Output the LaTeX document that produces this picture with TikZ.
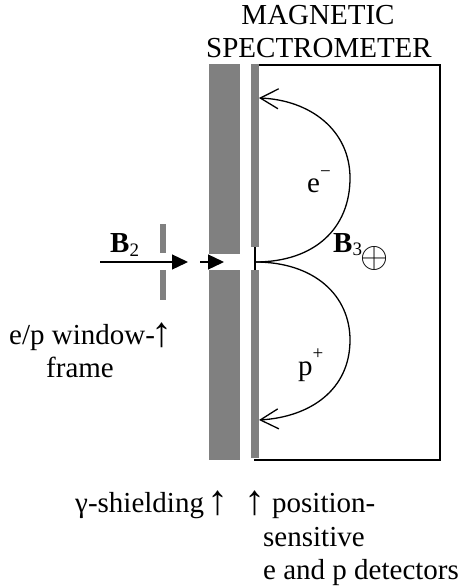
\documentclass[tikz,border=0pt]{standalone}
\usepackage{fontspec}
\setmainfont{Liberation Serif}
\usetikzlibrary{arrows.meta}
\definecolor{midgray}{HTML}{808080}
\newcommand{\smalltxt}{\fontsize{19}{21}\selectfont}
\newcommand{\uparr}{\makebox[14pt]{\raisebox{-2pt}{\fontsize{42}{42}\selectfont ↑}}}
\tikzset{
  lab/.style={inner sep=0pt,font=\fontsize{29}{33}\selectfont,text=black,anchor=base west},
  gbar/.style={fill=midgray,draw=none,inner sep=0pt,minimum width=0pt},
  beam/.style={draw=black,line width=1.3pt,-{Triangle[length=16pt,width=15pt]}},
  orbit/.style={draw=black,line width=1.3pt,-{Straight Barb[length=18pt,width=20pt,line width=1.3pt]}},
}
\begin{document}
\begin{tikzpicture}[x=1pt,y=-1pt]
\useasboundingbox (0,0) rectangle (465,588);
% frame
\draw[black,line width=1.4pt] (254,65) -- (440,65) -- (440,460) -- (254,460);
% shield
\node[gbar,minimum width=31pt,minimum height=190pt] (shieldT) at (224.5,159) {};
\node[gbar,minimum width=31pt,minimum height=190pt] (shieldB) at (224.5,365) {};
% detectors
\node[gbar,minimum width=8pt,minimum height=183pt] (detT) at (255,155.5) {};
\node[gbar,minimum width=8pt,minimum height=188pt] (detB) at (255,364) {};
% window frame
\node[gbar,minimum width=6pt,minimum height=29pt] (winT) at (162.5,238.5) {};
\node[gbar,minimum width=6pt,minimum height=30pt] (winB) at (162.5,285) {};
% coordinates
\coordinate (b2s) at (100,262);
\coordinate (b2e) at (188,262);
\coordinate (b3s) at (200,262);
\coordinate (b3e) at (224,262);
\coordinate (src) at (255,262);
\coordinate (hitT) at (259,98);
\coordinate (hitB) at (259,420);
\draw[beam] (b2s) -- (b2e);
\draw[beam] (b3s) -- (b3e);
\draw[black,line width=1.3pt] (detT.south) -- (detB.north);
\draw[orbit] (src) .. controls (315,262) and (350,228) .. (350,178) .. controls (350,130) and (310,100) .. (hitT);
\draw[orbit] (src) .. controls (315,262) and (350,296) .. (350,340) .. controls (350,390) and (310,417) .. (hitB);
% labels
\node[lab,anchor=base] (t1) at (318,25) {MAGNETIC};
\node[lab,anchor=base] (t2) at (319,58) {SPECTROMETER};
\node[lab] (em) at (307,192) {e\raisebox{14pt}{\smalltxt −}};
\node[lab] (pp) at (298,375) {p\raisebox{16pt}{\smalltxt +}};
\node[lab] (b2) at (110,252) {\textbf{B}\raisebox{-4pt}{\smalltxt 2}};
\node[lab] (b3) at (333,252) {\textbf{B}\raisebox{-3pt}{\smalltxt 3}};
\node[inner sep=0pt,scale=1.45,font=\fontsize{24}{26}\selectfont] (op) at (375,258) {$\oplus$};
\node[lab] (w1) at (9,344) {e/p window-\uparr};
\node[lab] (w2) at (46,377) {frame};
\node[lab] (s1) at (75,512) {γ-shielding \uparr};
\node[lab] (s2) at (248,512) {\uparr\hskip 10pt position-};
\node[lab] (s3) at (263,546) {sensitive};
\node[lab] (s4) at (263,579) {e and p detectors};
\end{tikzpicture}
\end{document}
